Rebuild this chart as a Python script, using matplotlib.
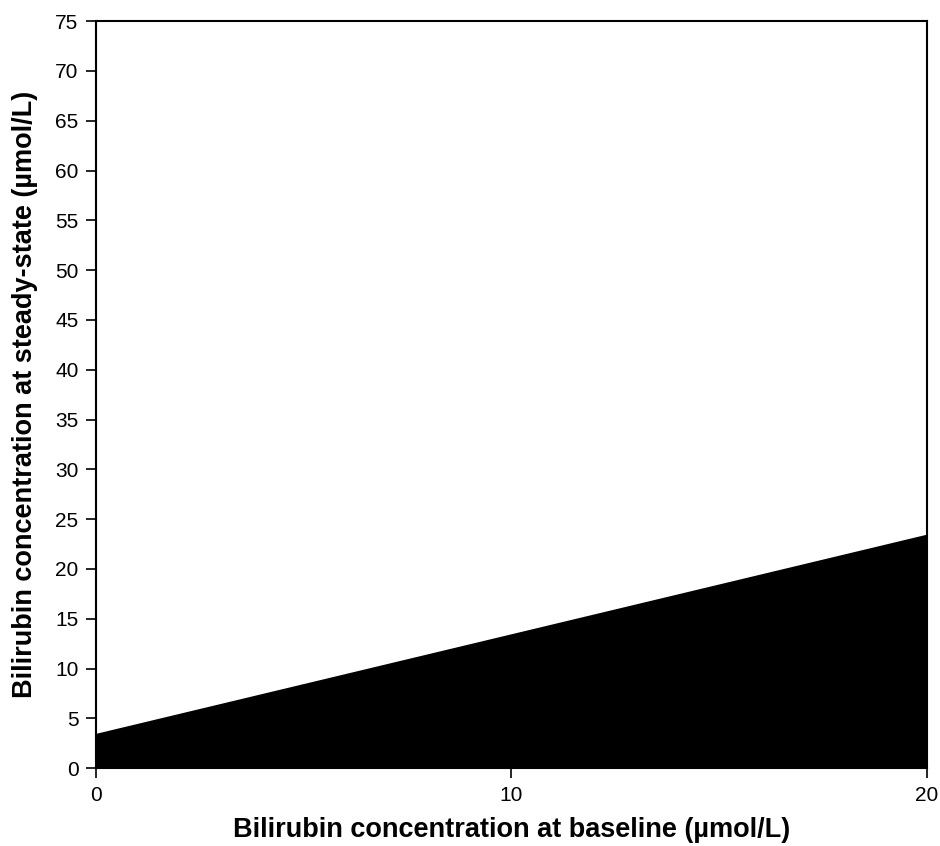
import matplotlib
matplotlib.use('Agg')
from matplotlib import pyplot as plt

# baseline bilirubin (umol/L) and steady-state concentration (upper edge of band)
baseline = [0, 20]
steady_state = [3.5, 23.5]
x_ticks = [0, 10, 20]
y_ticks = list(range(0, 80, 5))

plt.rcParams['font.family'] = ['Liberation Sans', 'DejaVu Sans']

fig = plt.figure(figsize=(9.4, 8.46), dpi=100)
ax = fig.add_axes([0.102, 0.092, 0.884, 0.883])

ax.fill_between(baseline, 0, steady_state, color='black', linewidth=0)

ax.set_xlim(0, 20)
ax.set_ylim(0, 75)
ax.set_xticks(x_ticks)
ax.set_yticks(y_ticks)
ax.tick_params(direction='out', length=7.5, width=1.2, labelsize=15, pad=5)
for sp in ax.spines.values():
    sp.set_linewidth(1.5)

ax.set_xlabel('Bilirubin concentration at baseline (µmol/L)',
              fontsize=19.5, fontweight='bold', labelpad=9)
ax.set_ylabel('Bilirubin concentration at steady-state (µmol/L)',
              fontsize=19.5, fontweight='bold', labelpad=12)

fig.savefig('out.png', dpi=100)
